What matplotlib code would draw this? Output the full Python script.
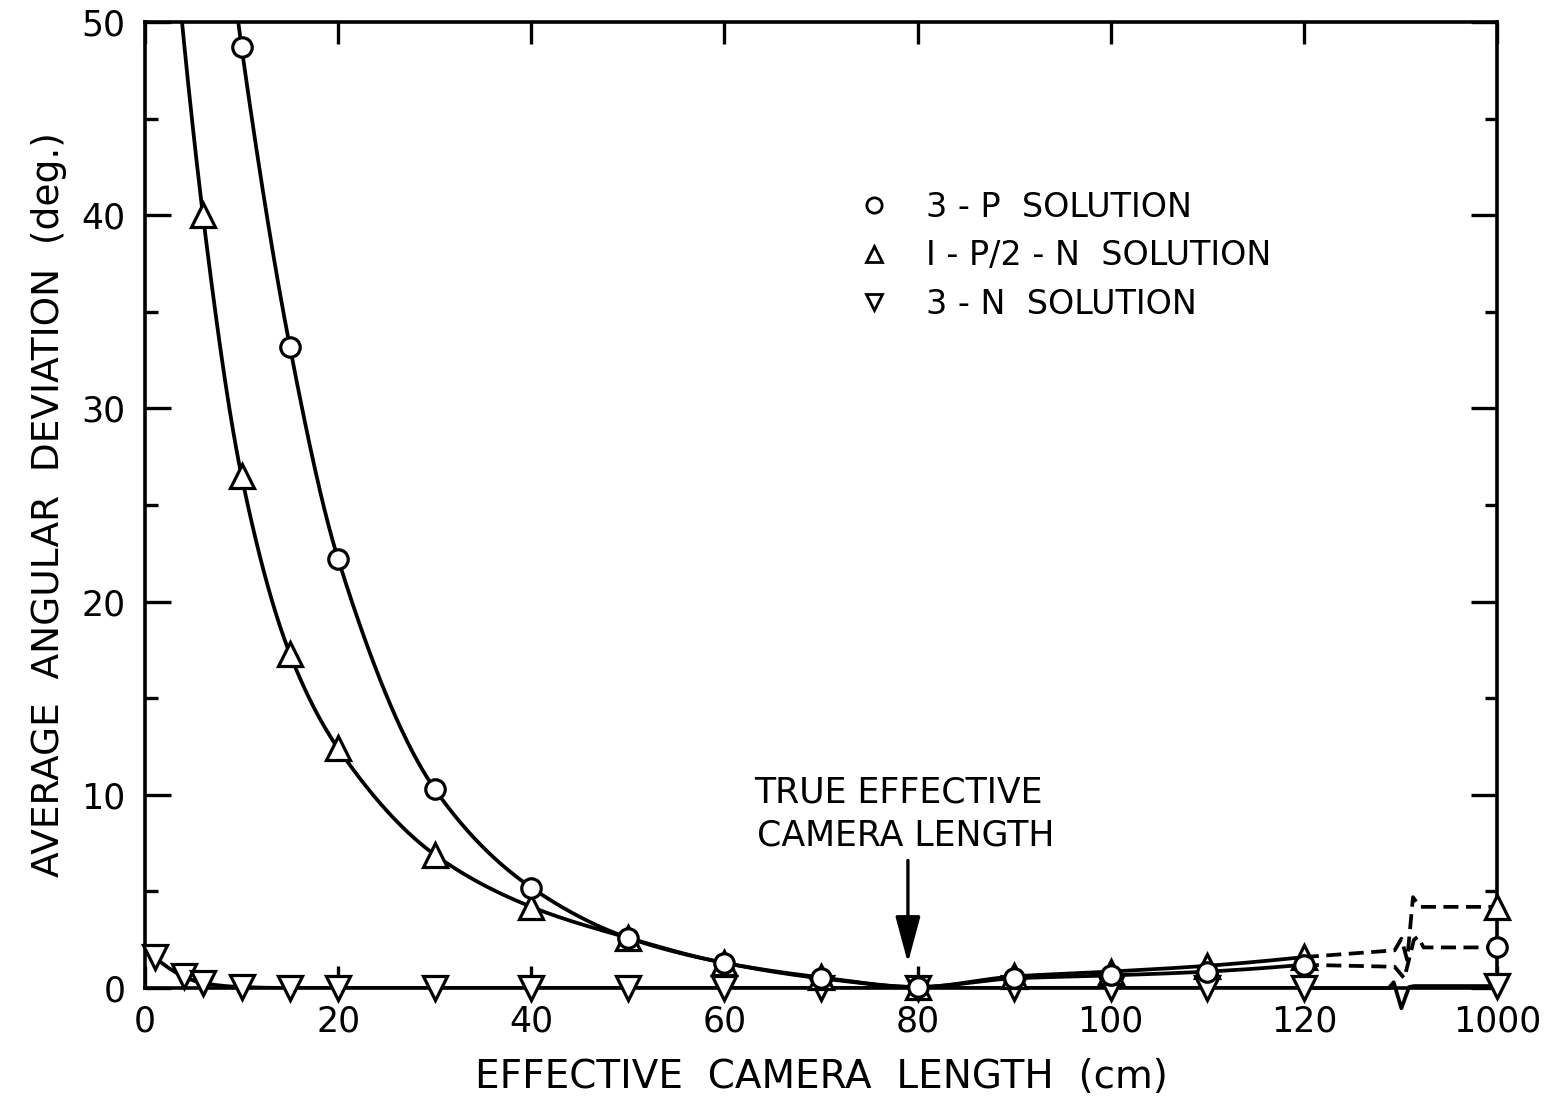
import numpy as np
import matplotlib
matplotlib.use("Agg")
import matplotlib.pyplot as plt
from matplotlib.lines import Line2D

# values (x in cm, the last point is the 1000 cm case)
x_3p = [10, 15, 20, 30, 40, 50, 60, 70, 80, 90, 100, 110, 120, 1000]
y_3p = [48.7, 33.2, 22.2, 10.3, 5.2, 2.6, 1.3, 0.5, 0.05, 0.5, 0.65, 0.85, 1.2, 2.1]

x_1p2n = [6, 10, 15, 20, 30, 40, 50, 60, 70, 80, 90, 100, 110, 120, 1000]
y_1p2n = [40.0, 26.5, 17.3, 12.4, 6.9, 4.2, 2.6, 1.3, 0.55, 0.05, 0.6, 0.85, 1.15, 1.6, 4.2]

x_3n = [1, 4, 6, 10, 15, 20, 30, 40, 50, 60, 70, 80, 90, 100, 110, 120, 1000]
y_3n = [1.6, 0.6, 0.25, 0.05, 0.0, 0.0, 0.0, 0.0, 0.0, 0.0, 0.0, 0.0, 0.0, 0.0, 0.0, 0.0, 0.1]

xtick_vals = [0, 20, 40, 60, 80, 100, 120, 1000]
ytick_vals = [0, 10, 20, 30, 40, 50]

BREAK_POS = 140  # axis position where 1000 cm is drawn


def to_pos(x):
    x = np.asarray(x, dtype=float)
    return np.where(x > 120, BREAK_POS, x)


def pchip(x, y, xn):
    x = np.asarray(x, float)
    y = np.asarray(y, float)
    h = np.diff(x)
    d = np.diff(y) / h
    n = len(x)
    m = np.zeros(n)
    for k in range(1, n - 1):
        if d[k - 1] * d[k] <= 0:
            m[k] = 0.0
        else:
            w1 = 2 * h[k] + h[k - 1]
            w2 = h[k] + 2 * h[k - 1]
            m[k] = (w1 + w2) / (w1 / d[k - 1] + w2 / d[k])

    def end(h0, h1, d0, d1):
        v = ((2 * h0 + h1) * d0 - h0 * d1) / (h0 + h1)
        if np.sign(v) != np.sign(d0):
            return 0.0
        if np.sign(d0) != np.sign(d1) and abs(v) > abs(3 * d0):
            return 3 * d0
        return v

    m[0] = end(h[0], h[1], d[0], d[1])
    m[-1] = end(h[-1], h[-2], d[-1], d[-2])
    idx = np.clip(np.searchsorted(x, xn) - 1, 0, n - 2)
    t = (xn - x[idx]) / h[idx]
    hh = h[idx]
    h00 = 2 * t**3 - 3 * t**2 + 1
    h10 = t**3 - 2 * t**2 + t
    h01 = -2 * t**3 + 3 * t**2
    h11 = t**3 - t**2
    return h00 * y[idx] + h10 * hh * m[idx] + h01 * y[idx + 1] + h11 * hh * m[idx + 1]


def smooth_curve(xs, ys, extend_top=False):
    # curve through the points up to 120 cm
    xs = np.asarray(xs, float)
    ys = np.asarray(ys, float)
    keep = xs <= 120
    xs, ys = xs[keep], ys[keep]
    xn = np.linspace(xs[0], xs[-1], 800)
    yn = pchip(xs, ys, xn)
    if extend_top:
        # carry the first segment on upward until it leaves the frame
        r = ys[0] / ys[1]
        step = xs[1] - xs[0]
        xe = np.linspace(xs[0] - 4.0, xs[0], 80)
        ye = ys[0] * r ** ((xs[0] - xe) / step)
        xn = np.concatenate([xe, xn])
        yn = np.concatenate([ye, yn])
    return xn, yn


fig = plt.figure(figsize=(15.53, 11.03), dpi=100)
ax = fig.add_axes([145 / 1553, 1 - 988 / 1103, (1497 - 145) / 1553, (988 - 22) / 1103])

lw = 2.7
mk = dict(ls="none", mfc="white", mec="black", mew=2.3, zorder=5, clip_on=False)

# main curves
for xs, ys, top in [(x_3p, y_3p, True), (x_1p2n, y_1p2n, True), (x_3n, y_3n, False)]:
    cx, cy = smooth_curve(xs, ys, extend_top=top)
    ax.plot(cx, cy, color="black", lw=lw, zorder=3, solid_capstyle="butt")

# broken part of the axis: 120 cm -> 1000 cm
v120 = y_3p[-2]
v1000 = y_3p[-1]
ax.plot([120, 129.4, 130.4, 131.4, 131.8, 132.4, BREAK_POS],
        [v120, v120 - 0.1, 0.5, 2.5, v1000 + 0.55, v1000, v1000],
        color="black", lw=lw, dashes=(4, 2), zorder=3)
v120 = y_1p2n[-2]
v1000 = y_1p2n[-1]
ax.plot([120, 129.4, 130.1, 130.7, 131.3, 132.0, BREAK_POS],
        [v120, v120 + 0.35, v120 + 0.95, v120 - 0.15, v1000 + 0.5, v1000, v1000],
        color="black", lw=lw, dashes=(4, 2), zorder=3)
v1000 = y_3n[-1]
ax.plot([120, 128.8, 129.3, 130.1, 130.9, 131.4, BREAK_POS],
        [0, 0, 0.3, -1.05, 0.05, v1000, v1000],
        color="black", lw=lw, zorder=3, clip_on=False)

# markers
ax.plot(to_pos(x_3n), y_3n, marker="v", ms=17, **mk)
ax.plot(to_pos(x_1p2n), y_1p2n, marker="^", ms=17, **mk)
ax.plot(to_pos(x_3p), y_3p, marker="o", ms=14, **mk)

# axes
ax.set_xlim(0, 140)
ax.set_ylim(0, 50)
ax.set_xticks(to_pos(xtick_vals))
ax.set_xticklabels([str(v) for v in xtick_vals])
ax.set_yticks(ytick_vals)
ax.set_yticks(np.arange(5, 50, 10), minor=True)
ax.tick_params(axis="both", which="both", direction="in", width=2.4,
               top=True, right=True, labelsize=25, colors="black")
ax.tick_params(axis="x", which="major", length=16, pad=12)
ax.tick_params(axis="y", which="major", length=19, pad=14)
ax.tick_params(axis="y", which="minor", length=9)
for s in ax.spines.values():
    s.set_linewidth(2.6)

ax.set_xlabel("EFFECTIVE  CAMERA  LENGTH  (cm)", fontsize=28, labelpad=14)
ax.set_ylabel("AVERAGE  ANGULAR  DEVIATION  (deg.)", fontsize=27, labelpad=10)

# annotation
ax.annotate("", xy=(79.0, 1.3), xytext=(79.0, 6.6),
            arrowprops=dict(arrowstyle="-|>,head_length=1.3,head_width=0.35",
                            lw=2.4, color="black", mutation_scale=22, shrinkA=0, shrinkB=0))
ax.text(78.0, 10.1, "TRUE EFFECTIVE", ha="center", va="center", fontsize=25)
ax.text(78.8, 7.9, "CAMERA LENGTH", ha="center", va="center", fontsize=25)

# legend
handles = [
    Line2D([], [], marker="o", ls="none", mfc="white", mec="black", mew=2.0, ms=11),
    Line2D([], [], marker="^", ls="none", mfc="white", mec="black", mew=2.0, ms=12),
    Line2D([], [], marker="v", ls="none", mfc="white", mec="black", mew=2.0, ms=12),
]
labels = ["3 - P  SOLUTION", "I - P/2 - N  SOLUTION", "3 - N  SOLUTION"]
ax.legend(handles, labels, loc="upper left", bbox_to_anchor=(0.527, 0.825),
          frameon=False, fontsize=24, handlelength=1.0, handletextpad=1.05,
          labelspacing=0.46, borderpad=0, borderaxespad=0)

fig.savefig("out.png", dpi=100, facecolor="white")
